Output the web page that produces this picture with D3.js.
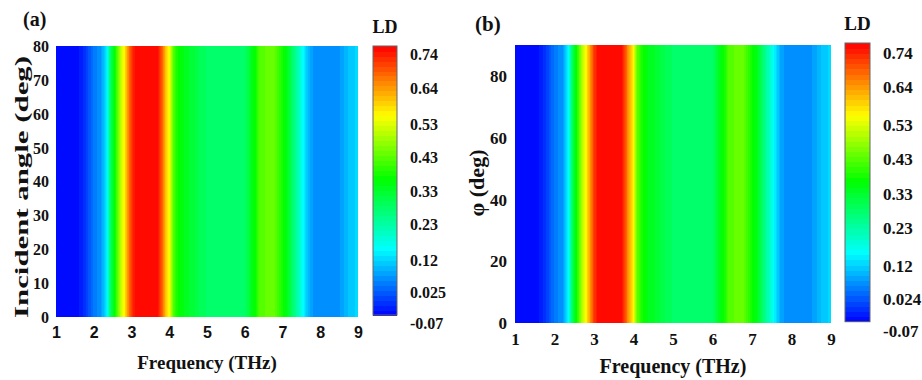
<!DOCTYPE html>
<html>
<head>
<meta charset="utf-8">
<script src="https://cdn.jsdelivr.net/npm/d3@7"></script>
<style>
  body { margin: 0; background: #fff; }
  svg { display: block; }
  text { font-family: "Liberation Serif", "Times New Roman", serif; font-weight: bold; fill: #111; }
</style>
</head>
<body>
<svg id="chart" width="922" height="380"></svg>
<script>
// LD (same for every angle)
const freqs = [1.0, 1.5, 1.65, 1.8, 2.0, 2.2, 2.35, 2.45, 2.55, 2.7,
               2.8, 2.9, 3.0, 3.1, 3.3, 3.5, 3.7, 3.8, 3.9, 4.0,
               4.1, 4.2, 4.4, 4.6, 4.8, 5.0, 5.5, 6.0, 6.1, 6.2,
               6.3, 6.4, 6.6, 6.8, 6.9, 7.0, 7.1, 7.2, 7.3, 7.45,
               7.55, 7.65, 7.75, 7.9, 8.2, 8.5, 8.65, 8.8, 9.0];
const ldValues = [-0.07, -0.07, -0.05, -0.023, 0.024, 0.048, 0.13, 0.26, 0.34, 0.47,
                  0.53, 0.616, 0.69, 0.73, 0.74, 0.74, 0.73, 0.675, 0.59, 0.53,
                  0.41, 0.36, 0.315, 0.30, 0.274, 0.258, 0.25, 0.258, 0.29, 0.32,
                  0.35, 0.40, 0.415, 0.41, 0.38, 0.35, 0.325, 0.29, 0.24, 0.175,
                  0.13, 0.087, 0.055, 0.04, 0.04, 0.048, 0.067, 0.087, 0.10];

const freqTicks = [1, 2, 3, 4, 5, 6, 7, 8, 9];
const angleTicks = [0, 10, 20, 30, 40, 50, 60, 70, 80];
const phiTicks = [0, 20, 40, 60, 80];
const ldTicksA = [0.74, 0.64, 0.53, 0.43, 0.33, 0.23, 0.12, 0.025, -0.07];
const ldTicksB = [0.74, 0.64, 0.53, 0.43, 0.33, 0.23, 0.12, 0.024, -0.07];

// colour map (rainbow, blue -> red)
const ldStops = [-0.07, 0.13, 0.34, 0.53, 0.74];
const stopColors = ["#0000ff", "#00ffff", "#00ff00", "#ffff00", "#ff0000"];
const nLevels = 54;

const SERIF = "'Liberation Serif', 'Times New Roman', serif";
const SANS = "'Liberation Sans', Arial, sans-serif";

const ldDomain = [-0.07, 0.74];
const smoothColor = d3.scaleLinear().domain(ldStops).range(stopColors).clamp(true);
const levelColors = d3.range(nLevels).map(i =>
  smoothColor(ldDomain[0] + (i + 0.5) * (ldDomain[1] - ldDomain[0]) / nLevels));
const color = d3.scaleQuantize().domain(ldDomain).range(levelColors);

// LD along frequency, piecewise linear between the read points
const ldAt = d3.scaleLinear().domain(freqs).range(ldValues);

const svg = d3.select("#chart");

function drawPanel(p) {
  const g = svg.append("g");
  const x = d3.scaleLinear().domain([1, 9]).range([p.left, p.right]);
  const y = d3.scaleLinear().domain([0, p.yMax]).range([p.bottom, p.top]);

  // heat map: field does not change with angle, one column per pixel
  const cols = d3.range(Math.floor(p.left), Math.ceil(p.right));
  g.append("g")
    .attr("shape-rendering", "crispEdges")
    .selectAll("rect")
    .data(cols)
    .join("rect")
    .attr("x", d => d)
    .attr("y", y(p.yMax))
    .attr("width", 1.2)
    .attr("height", y(0) - y(p.yMax))
    .attr("fill", d => color(ldAt(x.invert(d + 0.5))));

  // x axis
  const xAxis = g.append("g")
    .attr("transform", `translate(0,${p.xTickY})`)
    .call(d3.axisBottom(x).tickValues(freqTicks).tickSize(0).tickPadding(0))
    .attr("font-family", p.xTickFont)
    .attr("font-size", p.xTickSize);
  xAxis.select(".domain").remove();
  xAxis.selectAll("text")
    .attr("y", 0)
    .attr("dy", 0)
    .style("font-family", p.xTickFont)
    .style("font-weight", "bold")
    .style("font-size", p.xTickSize + "px")
    .attr("fill", "#111");

  // y axis
  const yAxis = g.append("g")
    .attr("transform", `translate(${p.yTickX},0)`)
    .call(d3.axisLeft(y).tickValues(p.yTicks).tickSize(0).tickPadding(0))
    .attr("font-family", SERIF)
    .attr("font-size", p.yTickSize);
  yAxis.select(".domain").remove();
  yAxis.selectAll("text")
    .attr("x", 0)
    .attr("dy", "0.34em")
    .style("font-family", SERIF)
    .style("font-weight", "bold")
    .style("font-size", p.yTickSize + "px")
    .attr("fill", "#111");

  // axis titles
  g.append("text")
    .attr("x", (p.left + p.right) / 2)
    .attr("y", p.xTitleY)
    .attr("text-anchor", "middle")
    .style("font-family", SERIF)
    .style("font-size", p.xTitleSize + "px")
    .text("Frequency (THz)");

  g.append("text")
    .attr("transform", `translate(${p.yTitleX},${p.yTitleMid}) rotate(-90)`)
    .attr("text-anchor", "middle")
    .attr("textLength", p.yTitleLen)
    .attr("lengthAdjust", "spacingAndGlyphs")
    .style("font-family", SERIF)
    .style("font-size", p.yTitleSize + "px")
    .text(p.yTitle);

  // panel letter
  g.append("text")
    .attr("x", p.letterX)
    .attr("y", p.letterY)
    .style("font-family", SERIF)
    .style("font-size", p.letterSize + "px")
    .text(p.letter);

  // colour bar
  const cb = p.cbar;
  const cy = d3.scaleLinear().domain(ldDomain).range([cb.bottom, cb.top]);
  const step = (ldDomain[1] - ldDomain[0]) / nLevels;
  g.append("g")
    .attr("shape-rendering", "crispEdges")
    .selectAll("rect")
    .data(levelColors)
    .join("rect")
    .attr("x", cb.x)
    .attr("y", (d, i) => cy(ldDomain[0] + (i + 1) * step))
    .attr("width", cb.w)
    .attr("height", (d, i) => cy(ldDomain[0] + i * step) - cy(ldDomain[0] + (i + 1) * step) + 0.6)
    .attr("fill", d => d);
  g.append("rect")
    .attr("x", cb.x)
    .attr("y", cb.top)
    .attr("width", cb.w)
    .attr("height", cb.bottom - cb.top)
    .attr("fill", "none")
    .attr("stroke", "#666")
    .attr("stroke-width", 1);

  g.append("g")
    .selectAll("text")
    .data(p.cbTicks)
    .join("text")
    .attr("x", cb.labelX)
    .attr("y", d => cy(d) + cb.labelShift)
    .attr("dy", "0.34em")
    .style("font-family", SERIF)
    .style("font-size", cb.labelSize + "px")
    .text(d => d);

  g.append("text")
    .attr("x", cb.x + cb.w / 2)
    .attr("y", cb.titleY)
    .attr("text-anchor", "middle")
    .style("font-family", SERIF)
    .style("font-size", cb.titleSize + "px")
    .text("LD");
}

drawPanel({
  left: 56, right: 358, top: 46, bottom: 317, yMax: 80,
  yTicks: angleTicks, yTickX: 49, yTickSize: 16,
  xTickY: 338, xTickSize: 16, xTickFont: SANS,
  xTitleY: 369, xTitleSize: 19,
  yTitle: "Incident angle (deg)", yTitleX: 28, yTitleMid: 187, yTitleLen: 262, yTitleSize: 19,
  letter: "(a)", letterX: 23, letterY: 26, letterSize: 20,
  cbTicks: ldTicksA,
  cbar: { x: 373, w: 24, top: 46, bottom: 315, labelX: 410, labelShift: 9, labelSize: 16, titleY: 33, titleSize: 18 }
});

drawPanel({
  left: 515, right: 831, top: 45, bottom: 322.7, yMax: 90,
  yTicks: phiTicks, yTickX: 507, yTickSize: 17,
  xTickY: 345, xTickSize: 17, xTickFont: SERIF,
  xTitleY: 373, xTitleSize: 20,
  yTitle: "\u03c6 (deg)", yTitleX: 484, yTitleMid: 183, yTitleLen: 67, yTitleSize: 20,
  letter: "(b)", letterX: 475, letterY: 31, letterSize: 21,
  cbTicks: ldTicksB,
  cbar: { x: 845, w: 25, top: 43, bottom: 321.7, labelX: 883, labelShift: 10, labelSize: 17, titleY: 30, titleSize: 19 }
});
</script>
</body>
</html>
